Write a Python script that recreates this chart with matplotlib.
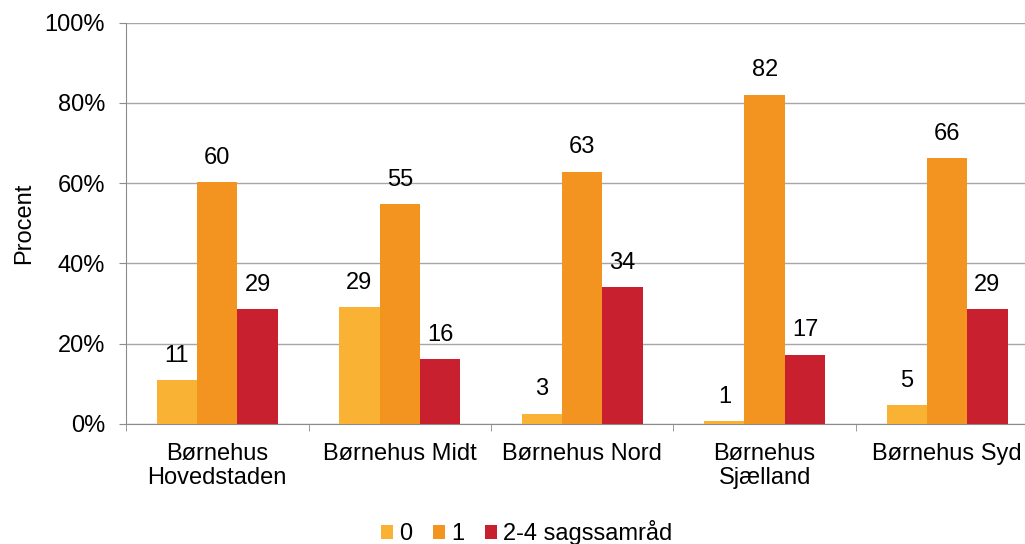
import matplotlib.pyplot as plt
import numpy as np

plt.rcParams['font.family'] = ['Liberation Sans', 'DejaVu Sans']

# data (percent)
centres = ['Børnehus\nHovedstaden', 'Børnehus Midt', 'Børnehus Nord',
           'Børnehus\nSjælland', 'Børnehus Syd']
series = ['0', '1', '2-4 sagssamråd']
zero = [11.0, 29.1, 2.6, 0.7, 4.7]
one = [60.3, 54.7, 62.9, 82.1, 66.3]
more = [28.6, 16.2, 34.1, 17.3, 28.7]
colors = ['#F9B233', '#F39420', '#C8202F']

fs = 17
fig = plt.figure(figsize=(10.25, 5.44), dpi=100)
# the plot area runs a bit past the right edge of the image, as in the original
ax = fig.add_axes([0.123, 0.2206, 0.89, 0.7377])

x = np.arange(len(centres))
w = 0.221
for i, (vals, name, c) in enumerate(zip([zero, one, more], series, colors)):
    bars = ax.bar(x + (i - 1) * w, vals, w, color=c, label=name, zorder=3)
    for b, v in zip(bars, vals):
        ax.text(b.get_x() + b.get_width() / 2, v + 3.3, '%d' % round(v),
                ha='center', va='bottom', fontsize=fs)

ax.set_xlim(-0.5, len(centres) - 0.5)
ax.set_ylim(0, 100)
ax.set_yticks(range(0, 101, 20))
ax.set_yticklabels(['%d%%' % t for t in range(0, 101, 20)], fontsize=fs)
ax.set_xticks(x)
ax.set_xticklabels(centres, fontsize=fs, linespacing=1.12)
ax.set_xticks(np.arange(-0.5, len(centres), 1), minor=True)
ax.tick_params(axis='x', which='major', length=0, pad=14)
ax.tick_params(axis='x', which='minor', length=5, color='#8c8c8c')
ax.tick_params(axis='y', length=5, color='#8c8c8c', pad=10)
ax.set_ylabel('Procent', fontsize=fs, labelpad=7)
ax.grid(axis='y', color='#a6a6a6', linewidth=1, zorder=0)
for s in ['top', 'right']:
    ax.spines[s].set_visible(False)
for s in ['left', 'bottom']:
    ax.spines[s].set_color('#8c8c8c')

ax.legend(loc='lower center', bbox_to_anchor=(0.439, -0.338), ncol=3, frameon=False,
          fontsize=fs, handlelength=0.5, handleheight=0.5, handletextpad=0.25,
          columnspacing=0.9, borderaxespad=0.2)

fig.savefig('out.png')
